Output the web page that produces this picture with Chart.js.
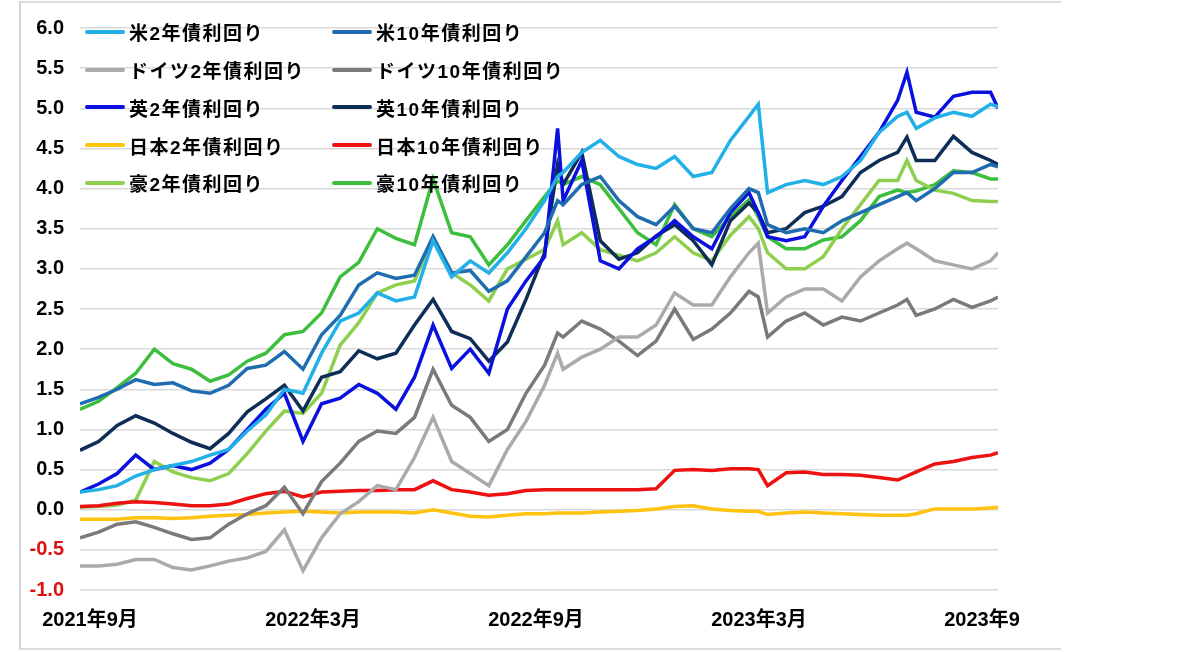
<!DOCTYPE html>
<html lang="ja">
<head>
<meta charset="utf-8">
<title>主要国の国債利回り</title>
<script src="https://cdn.jsdelivr.net/npm/chart.js@4.4.0/dist/chart.umd.min.js"></script>
<style>
  html, body { margin: 0; padding: 0; background: #fff; }
  #wrap { position: relative; width: 1200px; height: 652px; overflow: hidden; }
  #frame {
    position: absolute; left: 19px; top: 1px; width: 1040px; height: 645px;
    border-left: 2px solid #d4d4d4; border-top: 2px solid #dcdcdc; border-bottom: 2px solid #dcdcdc;
    pointer-events: none;
  }
  #legend {
    position: absolute; left: 85px; top: 13px;
    display: grid; grid-template-columns: 247px 247px; grid-auto-rows: 37.75px;
    font: bold 19px "Liberation Sans", "Noto Sans CJK JP", sans-serif;
    letter-spacing: 1.5px; color: #000;
  }
  .item { display: flex; align-items: center; white-space: nowrap; }
  .sw { width: 40px; height: 4px; border-radius: 2px; margin-right: 4px; }
</style>
</head>
<body>
<div id="wrap">
  <canvas id="yieldChart" width="1200" height="652"></canvas>
  <div id="legend"></div>
  <div id="frame"></div>
</div>
<script>
// months since 2021-09-01 (x positions of the readings)
const months = [0, 0.5, 1, 1.5, 2, 2.5, 3, 3.5, 4, 4.5, 5, 5.5, 6, 6.5, 7, 7.5, 8, 8.5, 9, 9.5,
  10, 10.5, 11, 11.5, 12, 12.5, 12.85, 13, 13.5, 14, 14.5, 15, 15.5, 16, 16.5, 17, 17.5, 18, 18.25,
  18.5, 19, 19.5, 20, 20.5, 21, 21.5, 22, 22.25, 22.5, 23, 23.5, 24, 24.5, 24.7];

const tickMonths = [0, 6, 12, 18, 24];
const tickLabels = ["2021年9月", "2022年3月", "2022年9月", "2023年3月", "2023年9"];

// yields (%)
const us2 = [0.22, 0.25, 0.30, 0.42, 0.50, 0.55, 0.60, 0.68, 0.75, 0.98, 1.18, 1.50, 1.45, 1.95, 2.35, 2.45, 2.70, 2.60, 2.65, 3.35,
  2.90, 3.10, 2.95, 3.20, 3.50, 3.85, 4.15, 4.20, 4.45, 4.60, 4.40, 4.30, 4.25, 4.40, 4.15, 4.20, 4.60, 4.90, 5.05,
  3.95, 4.05, 4.10, 4.05, 4.15, 4.35, 4.70, 4.90, 4.95, 4.75, 4.88, 4.95, 4.90, 5.05, 5.02];
const us10 = [1.32, 1.40, 1.50, 1.62, 1.56, 1.58, 1.48, 1.45, 1.55, 1.76, 1.80, 1.97, 1.75, 2.18, 2.42, 2.80, 2.95, 2.88, 2.92, 3.40,
  2.95, 2.98, 2.72, 2.85, 3.15, 3.45, 3.85, 3.80, 4.05, 4.15, 3.85, 3.65, 3.55, 3.78, 3.50, 3.45, 3.75, 4.00, 3.95,
  3.55, 3.45, 3.50, 3.45, 3.60, 3.70, 3.80, 3.90, 3.95, 3.85, 4.00, 4.20, 4.20, 4.30, 4.27];
const de2 = [-0.70, -0.70, -0.68, -0.62, -0.62, -0.72, -0.75, -0.70, -0.64, -0.60, -0.52, -0.25, -0.76, -0.35, -0.05, 0.10, 0.30, 0.25, 0.65, 1.15,
  0.60, 0.45, 0.30, 0.75, 1.10, 1.55, 1.95, 1.75, 1.90, 2.00, 2.15, 2.15, 2.30, 2.70, 2.55, 2.55, 2.90, 3.20, 3.32,
  2.45, 2.65, 2.75, 2.75, 2.60, 2.90, 3.10, 3.25, 3.32, 3.25, 3.10, 3.05, 3.00, 3.10, 3.20];
const de10 = [-0.35, -0.28, -0.18, -0.15, -0.22, -0.30, -0.37, -0.35, -0.18, -0.05, 0.05, 0.28, -0.05, 0.35, 0.58, 0.85, 0.98, 0.95, 1.15, 1.75,
  1.30, 1.15, 0.85, 1.00, 1.45, 1.80, 2.20, 2.15, 2.35, 2.25, 2.10, 1.92, 2.10, 2.50, 2.12, 2.25, 2.45, 2.72, 2.65,
  2.15, 2.35, 2.45, 2.30, 2.40, 2.35, 2.45, 2.55, 2.62, 2.42, 2.50, 2.62, 2.52, 2.60, 2.65];
const uk2 = [0.22, 0.32, 0.45, 0.68, 0.50, 0.55, 0.50, 0.58, 0.75, 1.00, 1.25, 1.45, 0.85, 1.32, 1.39, 1.56, 1.45, 1.25, 1.65, 2.30,
  1.76, 2.00, 1.70, 2.50, 2.85, 3.15, 4.75, 3.85, 4.35, 3.10, 3.00, 3.25, 3.40, 3.60, 3.40, 3.25, 3.70, 3.95, 3.70,
  3.40, 3.35, 3.40, 3.78, 4.10, 4.40, 4.70, 5.10, 5.45, 4.95, 4.89, 5.15, 5.20, 5.20, 5.00];
const uk10 = [0.74, 0.85, 1.05, 1.17, 1.08, 0.95, 0.84, 0.76, 0.95, 1.22, 1.38, 1.55, 1.23, 1.65, 1.72, 1.98, 1.88, 1.95, 2.30, 2.62,
  2.22, 2.13, 1.85, 2.09, 2.62, 3.20, 4.30, 4.05, 4.45, 3.35, 3.12, 3.20, 3.41, 3.55, 3.35, 3.05, 3.60, 3.82, 3.70,
  3.45, 3.50, 3.70, 3.78, 3.90, 4.20, 4.35, 4.45, 4.64, 4.35, 4.35, 4.65, 4.45, 4.35, 4.30];
const jp2 = [-0.12, -0.12, -0.12, -0.10, -0.10, -0.11, -0.10, -0.08, -0.07, -0.06, -0.04, -0.03, -0.02, -0.03, -0.04, -0.03, -0.03, -0.03, -0.04, 0.00,
  -0.04, -0.08, -0.09, -0.07, -0.05, -0.05, -0.04, -0.04, -0.04, -0.03, -0.02, -0.01, 0.01, 0.04, 0.05, 0.01, -0.01, -0.02, -0.02,
  -0.06, -0.04, -0.03, -0.04, -0.05, -0.06, -0.07, -0.07, -0.07, -0.05, 0.01, 0.01, 0.01, 0.02, 0.03];
const jp10 = [0.04, 0.05, 0.08, 0.10, 0.09, 0.07, 0.05, 0.05, 0.07, 0.14, 0.20, 0.23, 0.16, 0.22, 0.23, 0.24, 0.24, 0.25, 0.25, 0.36,
  0.25, 0.22, 0.18, 0.20, 0.24, 0.25, 0.25, 0.25, 0.25, 0.25, 0.25, 0.25, 0.26, 0.49, 0.50, 0.49, 0.51, 0.51, 0.50,
  0.30, 0.46, 0.47, 0.44, 0.44, 0.43, 0.40, 0.37, 0.42, 0.47, 0.57, 0.60, 0.65, 0.68, 0.71];
const au2 = [0.03, 0.04, 0.06, 0.12, 0.60, 0.47, 0.40, 0.36, 0.45, 0.70, 0.98, 1.23, 1.20, 1.45, 2.05, 2.33, 2.70, 2.80, 2.85, 3.40,
  2.95, 2.80, 2.60, 3.00, 3.12, 3.24, 3.60, 3.30, 3.45, 3.24, 3.17, 3.10, 3.20, 3.40, 3.20, 3.10, 3.42, 3.65, 3.50,
  3.20, 3.00, 3.00, 3.15, 3.50, 3.80, 4.10, 4.10, 4.35, 4.10, 3.98, 3.94, 3.85, 3.84, 3.84];
const au10 = [1.25, 1.35, 1.52, 1.70, 2.00, 1.82, 1.75, 1.60, 1.68, 1.85, 1.95, 2.18, 2.22, 2.45, 2.90, 3.08, 3.50, 3.38, 3.30, 4.12,
  3.45, 3.40, 3.05, 3.30, 3.60, 3.90, 4.10, 4.05, 4.15, 4.05, 3.75, 3.45, 3.30, 3.80, 3.50, 3.40, 3.65, 3.86, 3.65,
  3.40, 3.25, 3.25, 3.36, 3.40, 3.60, 3.90, 3.98, 3.95, 3.97, 4.05, 4.22, 4.20, 4.12, 4.12];

const seriesNames = ["米2年債利回り", "米10年債利回り", "ドイツ2年債利回り", "ドイツ10年債利回り", "英2年債利回り",
  "英10年債利回り", "日本2年債利回り", "日本10年債利回り", "豪2年債利回り", "豪10年債利回り"];
const seriesValues = [us2, us10, de2, de10, uk2, uk10, jp2, jp10, au2, au10];
const seriesColors = ["#22b0e8", "#1f6db0", "#aaaaaa", "#7a7a7a", "#0a10dd",
  "#0e2d57", "#ffc20e", "#ee1111", "#8fcf50", "#3dbe3d"];

const tickFont = { family: "'Liberation Sans', 'Noto Sans CJK JP', sans-serif", size: 20, weight: 'bold' };

const ctx = document.getElementById('yieldChart').getContext('2d');

const yieldChart = new Chart(ctx, {
  type: 'line',
  data: {
    labels: months,
    datasets: seriesNames.map((name, i) => ({
      label: name,
      data: seriesValues[i],
      borderColor: seriesColors[i],
      backgroundColor: seriesColors[i],
      borderWidth: 3.5,
      pointRadius: 0,
      tension: 0,
      fill: false
    }))
  },
  options: {
    responsive: false,
    animation: false,
    layout: { padding: { left: 0, right: 202, top: 22, bottom: 0 } },
    plugins: {
      legend: { display: false },
      tooltip: { enabled: false }
    },
    scales: {
      x: {
        type: 'linear',
        min: 0,
        max: 24.7,
        grid: { display: false },
        border: { display: false },
        afterBuildTicks: scale => { scale.ticks = tickMonths.map(v => ({ value: v })); },
        afterFit: scale => { scale.height = 62; },
        ticks: {
          autoSkip: false,
          maxRotation: 0,
          padding: 10,
          labelOffset: 10,
          color: '#000',
          font: tickFont,
          callback: (value, index) => tickLabels[index]
        }
      },
      y: {
        min: -1,
        max: 6,
        afterFit: scale => { scale.width = 80; },
        border: { display: false },
        grid: { color: '#d9d9d9', lineWidth: 1.5, drawTicks: false },
        ticks: {
          stepSize: 0.5,
          padding: 16,
          font: tickFont,
          color: c => c.tick.value < 0 ? '#e01010' : '#000',
          callback: v => v.toFixed(1)
        }
      }
    }
  }
});

// two-column legend as in the original slide
const legendBox = document.getElementById('legend');
yieldChart.data.datasets.forEach(ds => {
  const item = document.createElement('div');
  item.className = 'item';
  const sw = document.createElement('span');
  sw.className = 'sw';
  sw.style.background = ds.borderColor;
  const txt = document.createElement('span');
  txt.textContent = ds.label;
  item.appendChild(sw);
  item.appendChild(txt);
  legendBox.appendChild(item);
});
</script>
</body>
</html>
